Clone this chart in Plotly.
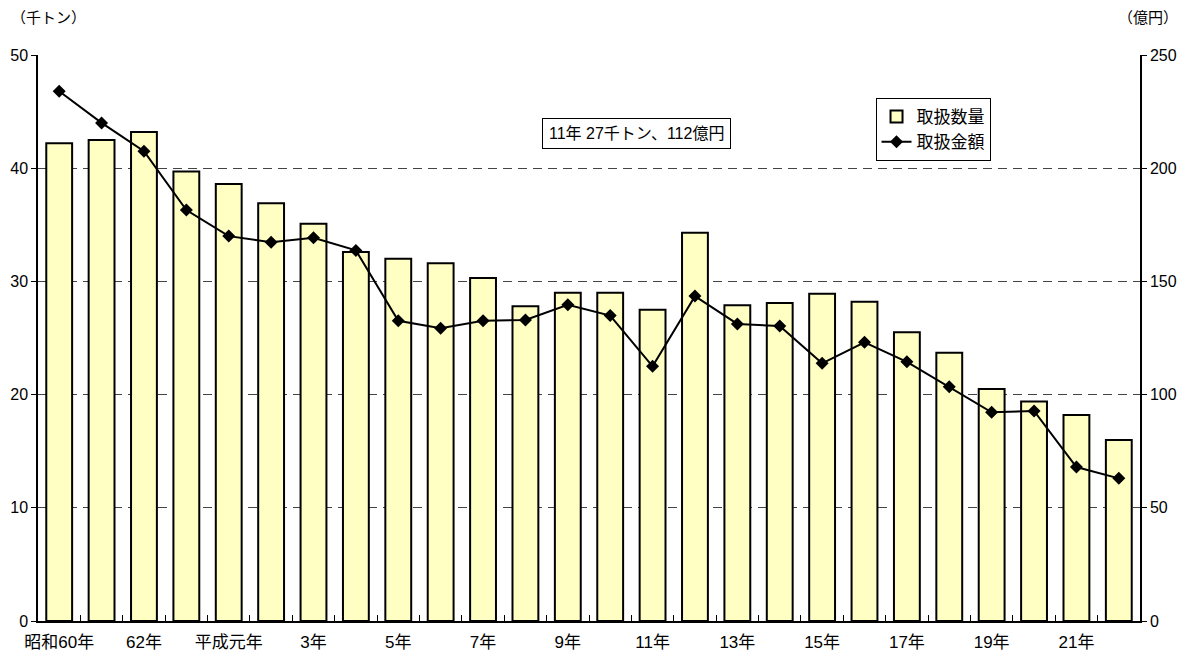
import plotly.graph_objects as go

categories = ["昭和60年", "61年", "62年", "63年", "平成元年", "2年", "3年", "4年", "5年", "6年",
              "7年", "8年", "9年", "10年", "11年", "12年", "13年", "14年", "15年", "16年",
              "17年", "18年", "19年", "20年", "21年", "22年"]
tick_labels = ["昭和60年", "", "62年", "", "平成元年", "", "3年", "", "5年", "",
               "7年", "", "9年", "", "11年", "", "13年", "", "15年", "",
               "17年", "", "19年", "", "21年", ""]
volume = [42.2, 42.5, 43.2, 39.7, 38.6, 36.9, 35.1, 32.6, 32.0, 31.6,
          30.3, 27.8, 29.0, 29.0, 27.5, 34.3, 27.9, 28.1, 28.9, 28.2,
          25.5, 23.7, 20.5, 19.4, 18.2, 16.0]
amount = [234, 220, 207.5, 181.5, 170, 167.3, 169.3, 163.7, 132.6, 129.3,
          132.6, 133, 139.7, 134.9, 112.5, 143.5, 131.2, 130.3, 113.8, 123.1,
          114.5, 103.5, 92.2, 92.8, 68, 63]

FONT = "Liberation Sans, Noto Sans CJK JP, sans-serif"

fig = go.Figure()
fig.add_trace(go.Bar(
    x=categories, y=volume, name="取扱数量",
    marker=dict(color="#FFFFC4", line=dict(color="black", width=2)),
    width=0.61, yaxis="y"))
fig.add_trace(go.Scatter(
    x=categories, y=amount, name="取扱金額", mode="lines+markers",
    line=dict(color="black", width=2),
    marker=dict(symbol="diamond", size=10, color="black"),
    yaxis="y2"))

fig.update_layout(
    width=1179, height=654,
    margin=dict(l=30, r=47, t=47, b=41, autoexpand=False),
    paper_bgcolor="white", plot_bgcolor="white",
    font=dict(family=FONT, size=16, color="black"),
    showlegend=True,
    legend=dict(x=0.760, y=0.924, xanchor="left", yanchor="top",
                bgcolor="white", bordercolor="black", borderwidth=1,
                font=dict(size=17), tracegroupgap=0),
    xaxis=dict(type="category", tickvals=categories, ticktext=tick_labels,
               tickangle=0, automargin=False, tickfont=dict(size=17),
               ticklabelstandoff=5,
               tickson="boundaries", ticks="inside", ticklen=6, tickcolor="black",
               showline=True, linecolor="black", linewidth=1.5, mirror=False,
               showgrid=False, range=[-0.5, len(categories) - 0.5]),
    yaxis=dict(range=[0, 50], dtick=10, ticks="outside", ticklen=5, tickcolor="black",
               automargin=False,
               showline=True, linecolor="black", linewidth=1.5,
               showgrid=True, gridcolor="#444", gridwidth=1, griddash="9px,6px",
               zeroline=False),
    yaxis2=dict(range=[0, 250], dtick=50, overlaying="y", side="right",
                ticks="outside", ticklen=5, tickcolor="black", automargin=False,
                showline=True, linecolor="black", linewidth=1.5,
                showgrid=False, zeroline=False),
)

fig.add_annotation(text="（千トン）", xref="paper", yref="paper", x=-0.026, y=1.066,
                   xanchor="left", yanchor="middle", showarrow=False, font=dict(size=15))
fig.add_annotation(text="（億円）", xref="paper", yref="paper", x=1.036, y=1.066,
                   xanchor="right", yanchor="middle", showarrow=False, font=dict(size=15))
fig.add_annotation(text="11年 27千トン、112億円", xref="paper", yref="paper", x=0.543, y=0.862,
                   xanchor="center", yanchor="middle", showarrow=False, font=dict(size=16),
                   bgcolor="white", bordercolor="black", borderwidth=1, borderpad=6)

fig.write_html("out.html")
